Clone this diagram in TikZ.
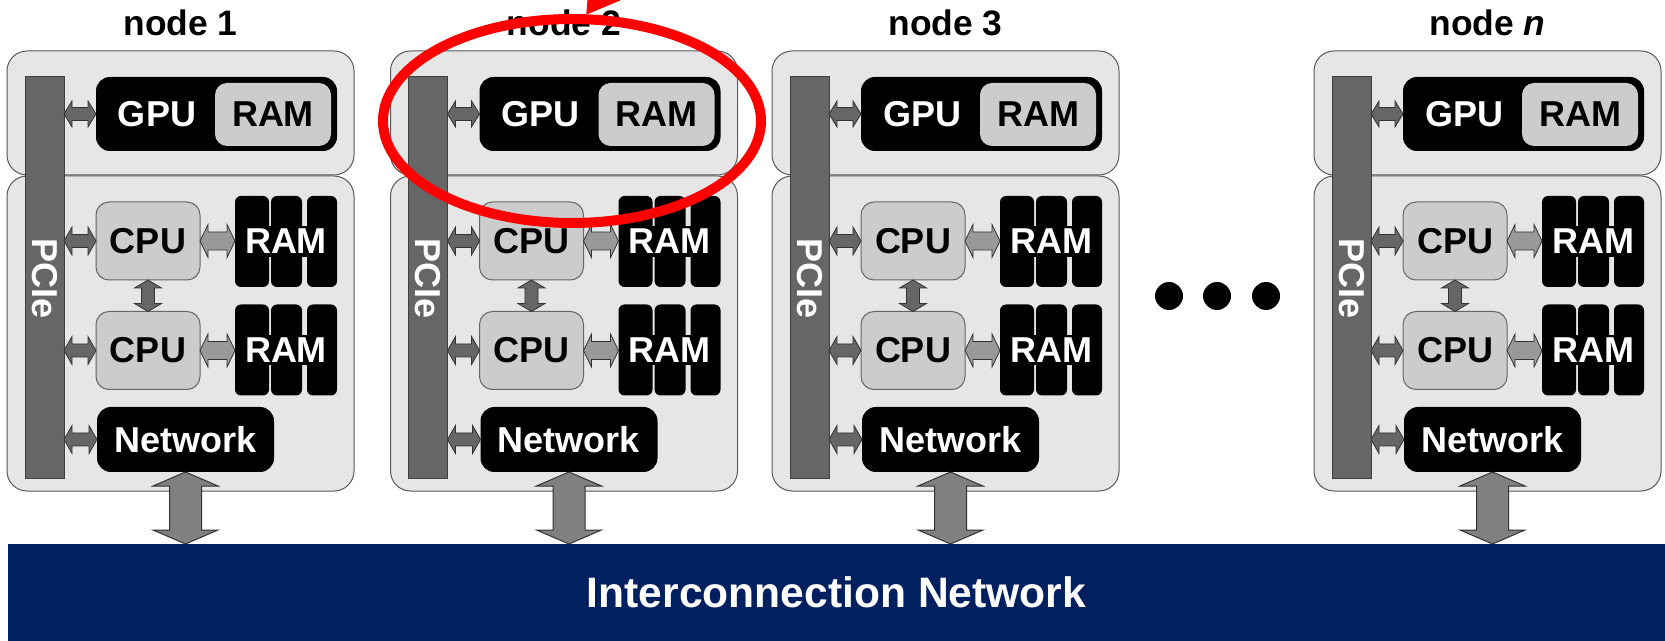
\documentclass[tikz,border=0pt]{standalone}
\usepackage{fontspec}
\setmainfont{Liberation Sans}
\usetikzlibrary{calc,arrows.meta}

\definecolor{shellfill}{HTML}{E6E6E6}
\definecolor{busgray}{HTML}{666666}
\definecolor{chipgray}{HTML}{CCCCCC}
\definecolor{linkdark}{HTML}{666666}
\definecolor{linklight}{HTML}{999999}
\definecolor{uplinkgray}{HTML}{808080}
\definecolor{fabricblue}{HTML}{002060}

\newcommand\lblfont{\fontsize{18pt}{20pt}\selectfont\bfseries}
\newcommand\capfont{\fontsize{17.7pt}{20pt}\selectfont\bfseries}
\newcommand\fabfont{\fontsize{21.3pt}{24pt}\selectfont\bfseries}

% horizontal double block arrow: style, from, to, shaft half, head half, head length
\newcommand\hlink[6]{%
  \draw[#1] let \p1=(#2), \p2=(#3) in
    (\x1,\y1) -- ++(#6,#5) -- ++(0pt,#4-#5) -- (\x2-#6,\y1+#4) -- ++(0pt,#5-#4)
    -- (\x2,\y1) -- ++(-#6,-#5) -- ++(0pt,#5-#4) -- (\x1+#6,\y1-#4) -- ++(0pt,#4-#5) -- cycle;}
% vertical double block arrow: style, upper end, lower end, shaft half, head half, head length
\newcommand\vlink[6]{%
  \draw[#1] let \p1=(#2), \p2=(#3) in
    (\x1,\y1) -- ++(#5,-#6) -- ++(#4-#5,0pt) -- (\x1+#4,\y2+#6) -- ++(#5-#4,0pt)
    -- (\x1,\y2) -- ++(-#5,#6) -- ++(#5-#4,0pt) -- (\x1-#4,\y1-#6) -- ++(#4-#5,0pt) -- cycle;}

\tikzset{
  caption/.style={font=\capfont, inner sep=0pt},
  shell/.style={draw=black!65, fill=shellfill, line width=0.5pt, rounded corners=10pt,
    inner sep=0pt, outer sep=0pt, minimum width=173.5pt},
  bus/.style={draw=black!75, fill=busgray, line width=0.5pt, inner sep=0pt, outer sep=0pt,
    minimum width=19.5pt, minimum height=200.5pt},
  buslabel/.style={rotate=-90, text=white, font=\lblfont, inner sep=0pt},
  gpubox/.style={fill=black, rounded corners=7pt, inner sep=0pt, outer sep=0pt,
    minimum width=120.5pt, minimum height=37pt},
  gpuram/.style={fill=chipgray, rounded corners=6pt, inner sep=0pt, outer sep=0pt,
    minimum width=58pt, minimum height=31.5pt, font=\lblfont},
  cpubox/.style={draw=black!60, fill=chipgray, line width=0.5pt, rounded corners=6.5pt,
    inner sep=0pt, outer sep=0pt, minimum width=52pt, minimum height=39pt, font=\lblfont},
  rambar/.style={fill=black, rounded corners=3pt, inner sep=0pt, outer sep=0pt,
    minimum height=45.5pt},
  ramlabel/.style={fill=black, text=white, font=\lblfont, inner xsep=0pt, inner ysep=1.5pt},
  whitetext/.style={text=white, font=\lblfont, inner sep=0pt},
  netbox/.style={fill=black, rounded corners=7pt, inner sep=0pt, outer sep=0pt,
    minimum width=88.5pt, minimum height=32.5pt, text=white, font=\lblfont},
  fabricbar/.style={fill=fabricblue, inner sep=0pt, outer sep=0pt, minimum width=828.5pt,
    minimum height=48.5pt, text=white, font=\fabfont},
  dotmark/.style={circle, fill=black, inner sep=0pt, minimum size=14pt},
  darklink/.style={fill=linkdark, draw=black!80, line width=0.4pt},
  lightlink/.style={fill=linklight, draw=black!80, line width=0.4pt},
  uplink/.style={fill=uplinkgray, draw=black!80, line width=0.5pt},
  highlight/.style={draw=red, line width=5pt}
}

\begin{document}
\begin{tikzpicture}[x=0.5pt,y=-0.5pt]
\useasboundingbox (0,0) rectangle (1665,641);
\clip (0,0) rectangle (1665,641);
\fill[white] (0,0) rectangle (1665,641);

% compute nodes
\foreach \i/\nx/\lab in {1/7/1, 2/390.5/2, 3/772/3, n/1314/{\textit{n}}} {
  \begin{scope}[shift={(\nx,0)}]
    \node[caption, anchor=base] (cap\i) at (173.5,36) {node \lab};
    \node[shell, minimum height=62pt] (top\i) at (173.5,113) {};
    \node[shell, minimum height=157.5pt] (bot\i) at (173.5,333.5) {};
    \node[bus] (pcie\i) at (37.5,277.5) {};
    \node[buslabel] at (37.5,279) {PCIe};
    \node[gpubox] (gpu\i) at (209.5,114) {};
    \node[whitetext] at (150,114) {GPU};
    \node[gpuram] (gram\i) at (266,114.5) {RAM};
    \node[cpubox] (cpua\i) at (141,241) {CPU};
    \node[cpubox] (cpub\i) at (141,350.5) {CPU};
    \foreach \r/\ry in {a/241.5, b/350} {
      \node[rambar, minimum width=17pt] (ram\r\i1) at (245,\ry) {};
      \node[rambar, minimum width=15.5pt] (ram\r\i2) at (279.5,\ry) {};
      \node[rambar, minimum width=15pt] (ram\r\i3) at (315,\ry) {};
      \node[ramlabel] at (279,\ry) {RAM};
    }
    \node[netbox] (net\i) at (178.5,439.5) {Network};
  \end{scope}
}

% shared interconnect
\node[fabricbar] (fabric) at (836.5,592.5) {Interconnection Network};

% links inside and out of each node
\foreach \i in {1,2,3,n} {
  \hlink{darklink}{pcie\i.east |- gpu\i.west}{gpu\i.west}{3.25pt}{6.5pt}{4pt}
  \hlink{darklink}{pcie\i.east |- cpua\i.west}{cpua\i.west}{3.25pt}{7pt}{4pt}
  \hlink{darklink}{pcie\i.east |- cpub\i.west}{cpub\i.west}{3.25pt}{7pt}{4pt}
  \hlink{darklink}{pcie\i.east |- net\i.west}{net\i.west}{3.25pt}{7pt}{4pt}
  \hlink{lightlink}{cpua\i.east}{cpua\i.east -| rama\i1.west}{4.5pt}{8.25pt}{4pt}
  \hlink{lightlink}{cpub\i.east}{cpub\i.east -| ramb\i1.west}{4.5pt}{8.25pt}{4pt}
  \vlink{darklink}{cpua\i.south}{cpub\i.north}{3.25pt}{6.75pt}{4pt}
  \vlink{uplink}{net\i.south}{net\i.south |- fabric.north}{8pt}{16.25pt}{7pt}
}

% ellipsis between node 3 and node n
\node[dotmark] (dotA) at (1169,296) {};
\node[dotmark] (dotB) at (1217,296) {};
\node[dotmark] (dotC) at (1266,296) {};

% red highlight on the GPU of node 2
\draw[highlight] (572,121) ellipse [x radius=189, y radius=102];
\coordinate (hintTail) at (650,-73);
\coordinate (hintTip) at (586,15);
\draw[highlight, -{Triangle[length=16pt,width=18pt]}] (hintTail) -- (hintTip);
\end{tikzpicture}
\end{document}
